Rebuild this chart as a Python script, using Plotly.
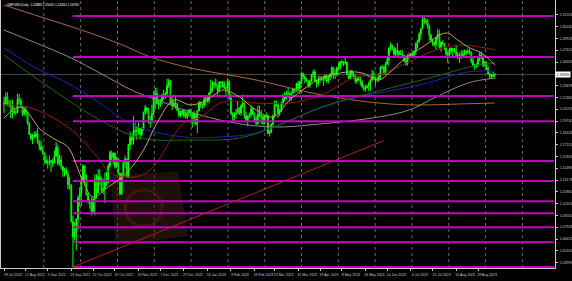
import pandas as pd
import plotly.graph_objects as go

# ---------------- data (GBPUSD daily) ----------------
first_open = 1.2178
closes = [
 1.2164,
 1.2240,1.2164,1.2158,1.2148,1.2076, 1.2074,1.2068,1.2214,1.2199,1.2138, 1.2055,1.2100,1.2069,1.1954,1.1825,
 1.1775,1.1817,1.1802,1.1829,1.1734, 1.1696,1.1655,1.1621,1.1538,1.1509,
 1.1518,1.1518,1.1531,1.1506,1.1586, 1.1677,1.1500,1.1542,1.1470,1.1418, 1.1433,1.1382,1.1268,1.1253,1.0858,
 1.0686,1.0731,1.0885,1.1121,1.1166,
 1.1323,1.1475,1.1322,1.1154,1.1090, 1.1056,1.0969,1.1102,1.1325,1.1174, 1.1360,1.1318,1.1205,1.1221,1.1308,
 1.1287,1.1475,1.1620,1.1566,1.1618,
 1.1466,1.1509,1.1391,1.1163,1.1377, 1.1513,1.1547,1.1355,1.1708,1.1791, 1.1756,1.1861,1.1860,1.1863,1.1893,
 1.1823,1.1890,1.2069,1.2123,1.2089, 1.1958,1.1970,1.2058,
 1.2259,1.2280, 1.2169,1.2156,1.2197,1.2244,1.2263, 1.2279,1.2369,1.2417,1.2183,1.2142, 1.2174,1.2158,1.2097,1.2033,1.2049,
 1.2092,1.2028,1.2021,1.2067,1.2097,
 1.2057,1.1958,1.2057,1.1938,1.2087, 1.2180,1.2154,1.2152,1.2214,1.2227, 1.2198,1.2284,1.2349,1.2400,1.2394,
 1.2367,1.2314,1.2409,1.2403,1.2393, 1.2345,1.2336,
 1.2419,1.2233,1.2055, 1.2018,1.2049,1.2058,1.2109,1.2063, 1.2144,1.2178,1.2034,1.1966,1.2030, 1.2044,1.2111,1.2051,1.1990,1.1944,
 1.2055,1.2050,
 1.2030,1.1950,1.2035, 1.2035,1.1834,1.1847,1.1939,1.2032, 1.2177,1.2153,1.2062,1.2090,1.2178, 1.2223,1.2270,1.2278,1.2282,1.2232,
 1.2290,1.2330,1.2312,1.2393,1.2337,
 1.2413,1.2505,1.2467,1.2441,1.2416, 1.2370,1.2418,1.2486,1.2520,1.2415, 1.2394,1.2433,1.2439,1.2437,1.2442, 1.2480,1.2417,1.2464,1.2497,1.2567,
 1.2495,1.2490,1.2566,1.2567,1.2634, 1.2620,1.2616,1.2630,1.2491,1.2447, 1.2531,1.2488,1.2467,1.2416,1.2443, 1.2440,1.2414,1.2353,1.2326,1.2345,
 1.2359,1.2391,1.2433,
 1.2492,1.2450, 1.2436,1.2436,1.2493,1.2577,1.2575, 1.2504,1.2609,1.2658,1.2781,1.2819, 1.2792,1.2716,1.2765,1.2746,1.2713,
 1.2717,1.2703,1.2642,1.2610,1.2704,
 1.2690,1.2716,1.2706,1.2749,1.2837, 1.2861,1.2940,1.3000,1.3100,1.3090, 1.3077,1.3036,1.2933,1.2875,1.2854, 1.2823,1.2905,1.2941,1.2796,1.2851,
 1.2835,
 1.2780,1.2717,1.2711,1.2750, 1.2784,1.2763,1.2748,1.2707,1.2694, 1.2685,1.2702,1.2722,1.2747,1.2735, 1.2749,1.2734,1.2640,1.2595,1.2578,
 1.2599,1.2667,1.2713,1.2683,
 1.2587, 1.2622,1.2560,1.2498,1.2468,1.2466, 1.2488,1.2492,
]
highs = [
 1.2245,
 1.2293,1.2294,1.2207,1.2206,1.2212, 1.2130,1.2100,1.2276,1.2277,1.2230, 1.2131,1.2125,1.2130,1.2080,1.1960,
 1.1835,1.1833,1.1858,1.1862,1.1900, 1.1760,1.1760,1.1690,1.1622,1.1590,
 1.1549,1.1590,1.1540,1.1560,1.1648, 1.1737,1.1710,1.1600,1.1590,1.1455, 1.1452,1.1460,1.1420,1.1350,1.1275,
 1.0920,1.0850,1.0890,1.1140,1.1238,
 1.1360,1.1495,1.1450,1.1380,1.1180, 1.1100,1.1125,1.1120,1.1380,1.1382, 1.1440,1.1438,1.1355,1.1335,1.1400,
 1.1412,1.1500,1.1642,1.1645,1.1625,
 1.1615,1.1578,1.1560,1.1400,1.1400, 1.1530,1.1590,1.1560,1.1720,1.1855, 1.1827,1.2028,1.1955,1.1920,1.1955,
 1.1890,1.1905,1.2080,1.2153,1.2125, 1.2120,1.2030,1.2155,
 1.2310,1.2345, 1.2345,1.2220,1.2218,1.2280,1.2320, 1.2300,1.2445,1.2446,1.2430,1.2243, 1.2215,1.2240,1.2182,1.2110,1.2090,
 1.2095,1.2110,1.2080,1.2090,1.2108,
 1.2110,1.2060,1.2085,1.2060,1.2095, 1.2200,1.2190,1.2170,1.2245,1.2247, 1.2250,1.2300,1.2435,1.2420,1.2410,
 1.2448,1.2380,1.2415,1.2415,1.2420, 1.2420,1.2354,
 1.2448,1.2424,1.2275, 1.2070,1.2075,1.2110,1.2195,1.2130, 1.2160,1.2270,1.2180,1.2075,1.2040, 1.2065,1.2148,1.2130,1.2070,1.2035,
 1.2145,1.2145,
 1.2095,1.2035,1.2040, 1.2070,1.2045,1.1875,1.1945,1.2045, 1.2203,1.2205,1.2170,1.2115,1.2190, 1.2275,1.2295,1.2310,1.2345,1.2290,
 1.2305,1.2345,1.2335,1.2400,1.2423,
 1.2420,1.2525,1.2510,1.2485,1.2455, 1.2430,1.2440,1.2500,1.2546,1.2545, 1.2435,1.2475,1.2475,1.2475,1.2475, 1.2490,1.2480,1.2485,1.2505,1.2584,
 1.2575,1.2545,1.2580,1.2615,1.2640, 1.2655,1.2640,1.2680,1.2635,1.2505, 1.2540,1.2545,1.2515,1.2495,1.2470, 1.2475,1.2472,1.2430,1.2370,1.2380,
 1.2380,1.2415,1.2440,
 1.2545,1.2530, 1.2465,1.2465,1.2505,1.2580,1.2600, 1.2580,1.2630,1.2690,1.2795,1.2848, 1.2820,1.2800,1.2790,1.2840,1.2760,
 1.2765,1.2760,1.2710,1.2670,1.2715,
 1.2735,1.2730,1.2745,1.2760,1.2848, 1.2880,1.2965,1.3000,1.3135,1.3142, 1.3120,1.3110,1.3045,1.2940,1.2890, 1.2855,1.2910,1.2995,1.2990,1.2860,
 1.2870,
 1.2840,1.2800,1.2750,1.2790, 1.2790,1.2780,1.2790,1.2820,1.2740, 1.2735,1.2760,1.2765,1.2770,1.2765, 1.2780,1.2780,1.2750,1.2680,1.2610,
 1.2620,1.2670,1.2745,1.2745,
 1.2700, 1.2640,1.2635,1.2585,1.2510,1.2500, 1.2520,1.2505,
]
lows = [
 1.2064,
 1.2152,1.2140,1.2125,1.2005,1.2003, 1.2050,1.2040,1.2062,1.2160,1.2120, 1.2027,1.2035,1.2025,1.1932,1.1818,
 1.1760,1.1717,1.1780,1.1785,1.1720, 1.1650,1.1640,1.1600,1.1501,1.1490,
 1.1444,1.1480,1.1405,1.1460,1.1500, 1.1575,1.1478,1.1480,1.1435,1.1351, 1.1356,1.1375,1.1212,1.1210,1.0839,
 1.0350,1.0645,1.0539,1.0765,1.1025,
 1.1030,1.1290,1.1255,1.1145,1.1055, 1.0998,1.0924,1.0950,1.0925,1.1110, 1.1200,1.1260,1.1180,1.1160,1.1060,
 1.1250,1.1280,1.1450,1.1530,1.1490,
 1.1445,1.1455,1.1375,1.1145,1.1150, 1.1370,1.1450,1.1340,1.1340,1.1650, 1.1710,1.1710,1.1800,1.1765,1.1825,
 1.1765,1.1805,1.1870,1.2040,1.2055, 1.1945,1.1900,1.1945,
 1.2040,1.2105, 1.2160,1.2105,1.2130,1.2160,1.2215, 1.2220,1.2255,1.2340,1.2160,1.2095, 1.2125,1.2110,1.2085,1.2017,1.2015,
 1.2040,1.2010,1.2000,1.1995,1.2020,
 1.2030,1.1900,1.1945,1.1925,1.1842, 1.2080,1.2120,1.2110,1.2120,1.2150, 1.2175,1.2170,1.2270,1.2300,1.2335,
 1.2345,1.2264,1.2290,1.2335,1.2345, 1.2330,1.2260,
 1.2305,1.2215,1.2045, 1.1960,1.1975,1.2000,1.2060,1.2040, 1.2030,1.2115,1.2000,1.1960,1.1915, 1.2010,1.2010,1.2035,1.1970,1.1925,
 1.1935,1.2010,
 1.1940,1.1925,1.1935, 1.2000,1.1830,1.1802,1.1840,1.1905, 1.2010,1.2130,1.2010,1.2030,1.2075, 1.2140,1.2190,1.2210,1.2230,1.2190,
 1.2205,1.2280,1.2280,1.2300,1.2300,
 1.2275,1.2385,1.2440,1.2395,1.2405, 1.2345,1.2345,1.2405,1.2460,1.2410, 1.2345,1.2360,1.2390,1.2420,1.2365, 1.2420,1.2395,1.2390,1.2430,1.2450,
 1.2445,1.2440,1.2470,1.2535,1.2545, 1.2600,1.2585,1.2595,1.2485,1.2445, 1.2445,1.2465,1.2445,1.2390,1.2390, 1.2420,1.2370,1.2345,1.2310,1.2300,
 1.2335,1.2305,1.2310,
 1.2415,1.2435, 1.2370,1.2405,1.2410,1.2435,1.2550, 1.2490,1.2490,1.2600,1.2590,1.2750, 1.2760,1.2700,1.2690,1.2700,1.2680,
 1.2705,1.2690,1.2630,1.2590,1.2590,
 1.2660,1.2680,1.2680,1.2675,1.2710, 1.2780,1.2840,1.2880,1.2995,1.3050, 1.3045,1.3000,1.2870,1.2845,1.2810, 1.2800,1.2770,1.2870,1.2780,1.2745,
 1.2815,
 1.2765,1.2700,1.2620,1.2690, 1.2715,1.2690,1.2735,1.2700,1.2660, 1.2620,1.2665,1.2675,1.2700,1.2705, 1.2725,1.2710,1.2615,1.2585,1.2545,
 1.2560,1.2580,1.2640,1.2660,
 1.2570, 1.2590,1.2540,1.2490,1.2445,1.2455, 1.2480,1.2445,
]
opens = [first_open] + closes[:-1]

# moving averages (bar index, price)
ma_slow_idx = [0, 22, 46, 69, 87, 111, 150, 189, 223, 247, 270, 292]
ma_slow_val = [1.3264, 1.3131, 1.2986, 1.2831, 1.2686, 1.2564, 1.2430, 1.2263, 1.2174, 1.2152, 1.2163, 1.2174]
ma200_idx = [0, 19, 40, 57, 77, 93, 111, 134, 160, 188, 223, 241, 257, 276, 292]
ma200_val = [1.2986, 1.2842, 1.2675, 1.2508, 1.2308, 1.2196, 1.2074, 1.1963, 1.1907, 1.1941, 1.2019, 1.2096, 1.2241, 1.2397, 1.2452]
ma_blue_idx = [0, 18, 40, 57, 77, 107, 128, 150, 170, 199, 223, 247, 276, 292]
ma_blue_val = [1.2786, 1.2575, 1.2374, 1.2174, 1.1929, 1.1796, 1.1796, 1.1840, 1.1985, 1.2185, 1.2285, 1.2374, 1.2519, 1.2530]
ma_green_idx = [0, 19, 38, 57, 81, 111, 140, 164, 189, 223, 253, 282, 292]
ma_green_val = [1.2708, 1.2452, 1.2208, 1.1985, 1.1785, 1.1763, 1.1785, 1.1930, 1.2130, 1.2308, 1.2452, 1.2597, 1.2619]
ma_red_idx = [0, 14, 38, 57, 63, 77, 87, 107, 117, 130, 150, 170, 189, 209, 223, 237, 257, 272, 292]
ma_red_val = [1.2152, 1.2130, 1.1907, 1.1540, 1.1396, 1.1351, 1.1429, 1.1952, 1.2019, 1.2185, 1.2174, 1.2174,
              1.2263, 1.2463, 1.2486, 1.2597, 1.2764, 1.2819, 1.2764]
ma_fast_idx = [0, 10, 22, 31, 38, 46, 53, 62, 73, 83, 91, 101, 111, 121, 130, 140, 150, 160, 170, 180, 189,
               204, 213, 223, 229, 239, 249, 263, 270, 276, 284, 292]
ma_fast_val = [1.2007, 1.2130, 1.1874, 1.1763, 1.1685, 1.1351, 1.1129, 1.1240, 1.1396, 1.1651, 1.1952, 1.2208,
               1.2152, 1.2208, 1.2319, 1.2241, 1.2096, 1.2019, 1.2208, 1.2352, 1.2452, 1.2519, 1.2508, 1.2430,
               1.2508, 1.2675, 1.2797, 1.2953, 1.2875, 1.2797, 1.2730, 1.2597]

# drawn objects
level_prices = [1.3142, 1.2686, 1.2252, 1.1972, 1.1529, 1.1306, 1.1082, 1.0949, 1.0792, 1.0625, 1.0350]
level_start_bar = 41
trend_bars = [41, 226]
trend_prices = [1.0350, 1.1756]

date_labels = ["29 Jul 2022", "17 Aug 2022", "5 Sep 2022", "23 Sep 2022", "12 Oct 2022", "31 Oct 2022",
               "18 Nov 2022", "7 Dec 2022", "27 Dec 2022", "16 Jan 2023", "3 Feb 2023", "23 Feb 2023",
               "13 Mar 2023", "31 Mar 2023", "19 Apr 2023", "8 May 2023", "26 May 2023", "14 Jun 2023",
               "4 Jul 2023", "21 Jul 2023", "10 Aug 2023", "29 Aug 2023"]
price_labels = ["1.31553", "1.30240", "1.28928", "1.27615", "1.26303", "1.23678", "1.22365",
                "1.21053", "1.19740", "1.18428", "1.17115", "1.15803", "1.14490", "1.13178", "1.11865",
                "1.10553", "1.09240", "1.07928", "1.06615", "1.05303", "1.03990"]
grid_bars = [23.7 + 21.9 * k for k in range(14)]

# ---------------- figure ----------------
dates = pd.bdate_range("2022-07-29", periods=len(closes))
bars = list(range(len(closes)))
label_pos = [int(dates.get_indexer([pd.Timestamp(d)], method="nearest")[0]) for d in date_labels]

X0, X1 = -1.8, 327.8
Y0, Y1 = 1.0339, 1.3320
FONT = "Liberation Sans"

fig = go.Figure()

# dotted vertical grid
for g in grid_bars:
    fig.add_shape(type="line", x0=g, x1=g, y0=0, y1=1, xref="x", yref="paper",
                  line=dict(color="#6a6a6a", width=1, dash="dot"), layer="below")

# watermark (decorative)
def pp(x, y):
    return f"{x/557:.4f},{1 - y/268:.4f}"
fig.add_shape(type="path", xref="paper", yref="paper",
              path=f"M{pp(110,176)} L{pp(178,171)} L{pp(188,236)} L{pp(115,246)} Z",
              fillcolor="rgba(55,32,14,0.5)", line=dict(width=0), layer="below")
fig.add_shape(type="circle", xref="paper", yref="paper",
              x0=125/557, x1=162/557, y0=1 - 226/268, y1=1 - 190/268,
              line=dict(color="rgba(100,40,22,0.45)", width=3), layer="below")

# bid line
fig.add_shape(type="line", xref="paper", x0=0, x1=1, y0=closes[-1], y1=closes[-1],
              line=dict(color="#4a4a4a", width=1), layer="below")

ma_specs = [
    (ma_slow_idx, ma_slow_val, "#a66a3c"),
    (ma200_idx, ma200_val, "#8a8a8a"),
    (ma_blue_idx, ma_blue_val, "#2323a8"),
    (ma_green_idx, ma_green_val, "#1c661c"),
    (ma_red_idx, ma_red_val, "#941b1b"),
]
for xi, yv, col in ma_specs:
    fig.add_trace(go.Scatter(x=xi, y=yv, mode="lines", line=dict(color=col, width=1, shape="spline"),
                             hoverinfo="skip", showlegend=False))

# horizontal levels
lx, ly = [], []
for p in level_prices:
    lx += [level_start_bar, X1 - 0.7, None]
    ly += [p, p, None]
fig.add_trace(go.Scatter(x=lx, y=ly, mode="lines", line=dict(color="#c400c4", width=2),
                         hoverinfo="skip", showlegend=False))

# trend line
fig.add_trace(go.Scatter(x=trend_bars, y=trend_prices, mode="lines", line=dict(color="#b02020", width=1),
                         hoverinfo="skip", showlegend=False))

# candles
fig.add_trace(go.Candlestick(
    x=bars, open=opens, high=highs, low=lows, close=closes,
    increasing=dict(line=dict(color="#00ff00", width=1), fillcolor="#c8ffc8"),
    decreasing=dict(line=dict(color="#00ff00", width=1), fillcolor="#000000"),
    showlegend=False, hoverinfo="skip"))

# fast MA on top
fig.add_trace(go.Scatter(x=ma_fast_idx, y=ma_fast_val, mode="lines",
                         line=dict(color="#c4a45c", width=1, shape="spline"),
                         hoverinfo="skip", showlegend=False))

fig.add_annotation(xref="paper", yref="paper", x=0.008, y=0.995, xanchor="left", yanchor="top",
                   text=f"GBPUSD,Daily  {opens[-1]:.5f} {highs[-1]:.5f} {lows[-1]:.5f} {closes[-1]:.5f}",
                   showarrow=False, font=dict(family=FONT, size=3.2, color="#ffffff"))
fig.add_annotation(xref="paper", yref="y", x=1.0, y=closes[-1], xanchor="left", yanchor="middle",
                   text=f"{closes[-1]:.5f}", showarrow=False, bgcolor="#ffffff", borderpad=0.5,
                   font=dict(family=FONT, size=3.5, color="#000000"))

fig.update_layout(
    width=572, height=281,
    margin=dict(l=0, r=15, t=0, b=13, pad=0),
    paper_bgcolor="#000000", plot_bgcolor="#000000",
    showlegend=False,
    xaxis=dict(range=[X0, X1], tickmode="array", tickvals=label_pos, ticktext=date_labels,
               tickangle=0,
               tickfont=dict(family=FONT, size=3.5, color="#c8c8c8"), ticks="outside", ticklen=2,
               tickcolor="#c8c8c8", showgrid=False, zeroline=False, showline=True, linecolor="#c8c8c8",
               linewidth=1, ticklabelshift=9, ticklabelstandoff=1, rangeslider=dict(visible=False), fixedrange=True),
    yaxis=dict(range=[Y0, Y1], side="right", tickmode="array",
               tickvals=[float(v) for v in price_labels], ticktext=price_labels,
               tickfont=dict(family=FONT, size=3.5, color="#c8c8c8"), ticks="outside", ticklen=2,
               tickcolor="#c8c8c8", showgrid=False, zeroline=False, showline=True, linecolor="#c8c8c8",
               linewidth=1, mirror=True, ticklabelstandoff=1, fixedrange=True),
)

fig.write_html("out.html")
